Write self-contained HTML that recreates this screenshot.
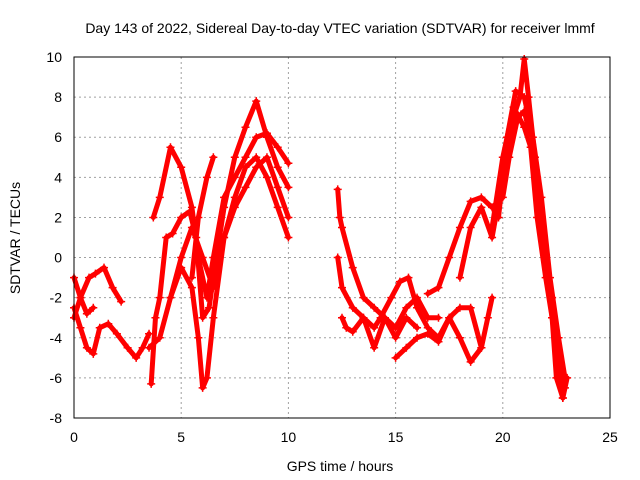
<!DOCTYPE html>
<html><head><meta charset="utf-8"><style>
html,body{margin:0;padding:0;background:#fff;}
svg{display:block;font-family:"Liberation Sans",sans-serif;}
</style></head><body>
<svg id="chart" width="640" height="480">
<text x="340" y="33" font-size="14" text-anchor="middle">Day 143 of 2022, Sidereal Day-to-day VTEC variation (SDTVAR) for receiver lmmf</text>
<text x="340" y="471" font-size="14" text-anchor="middle">GPS time / hours</text>
<text x="20" y="238" font-size="14" text-anchor="middle" transform="rotate(-90 20 238)">SDTVAR / TECUs</text>
<g id="grid"></g><g id="ticks"></g><g id="series"></g>
<rect x="74" y="57" width="536" height="361" fill="none" stroke="#000" stroke-width="1"/>
</svg>
<script>
const xTicks=[0,5,10,15,20,25];
const yTicks=[-8,-6,-4,-2,0,2,4,6,8,10];
const s1=[[0,-1],[0.3,-2],[0.7,-1],[1,-0.8],[1.4,-0.5],[1.8,-1.5],[2.2,-2.2]];
const s2=[[0,-2.5],[0.3,-3.5],[0.6,-4.5],[0.9,-4.8],[1.2,-3.5],[1.6,-3.3],[2,-3.8],[2.5,-4.5],[2.9,-5],[3.2,-4.5],[3.5,-3.8]];
const s3=[[0,-3],[0.3,-2],[0.6,-2.8],[0.9,-2.5]];
const s4=[[3.5,-4.5],[4,-4],[4.5,-2],[5,-0.5],[5.5,-1.5],[5.8,-4],[6,-6.5],[6.2,-6],[6.5,-3],[7,1],[7.5,3],[8,4.5],[8.5,5],[9,4],[9.5,2.5],[10,1]];
const s5=[[3.6,-6.3],[3.8,-3],[4,-2],[4.3,1],[4.6,1.2],[5,2],[5.4,2.3],[5.7,1],[6,-3],[6.3,-2.5],[6.5,-1],[7,2.5],[7.5,5],[8,6.5],[8.5,7.8],[9,6],[9.5,4.5],[10,3.5]];
const s6=[[3.7,2],[4,3],[4.5,5.5],[5,4.5],[5.5,2.5],[5.8,0],[6.2,-2],[6.5,0],[7,3],[7.5,4],[8,5],[8.5,6],[9,6.2],[9.5,5.5],[10,4.7]];
const s7=[[5.5,-1],[5.8,2],[6.2,4],[6.5,5]];
const s8=[[4.5,-2],[5,0],[5.5,1.5],[6,0],[6.5,-1.5],[7,1],[7.5,2.5],[8,3.5],[8.5,4.5],[9,5],[9.5,3.5],[10,2]];
const s9=[[12.3,3.4],[12.4,2],[12.5,1.5],[13,-0.5],[13.5,-2],[14,-2.5],[14.5,-3],[15,-3.5],[15.5,-2.5],[16,-2],[16.5,-3],[17,-3]];
const s10=[[12.3,0],[12.5,-1.5],[13,-2.5],[13.5,-3],[14,-3.5],[14.3,-3],[14.8,-2],[15.2,-1.2],[15.6,-1],[16,-2.5],[16.5,-3.5],[17,-4],[17.5,-3],[18,-2.5],[18.5,-2.5],[19,-4.5]];
const s11=[[12.5,-3],[12.7,-3.5],[13,-3.7],[13.5,-3],[14,-4.5],[14.5,-3],[15,-4],[15.5,-3],[16,-3.5]];
const s12=[[15,-5],[15.5,-4.5],[16,-4],[16.5,-3.8],[17,-4.2],[17.5,-3],[18,-4],[18.5,-5.2],[19,-4.5],[19.3,-3],[19.5,-2]];
const s13=[[16.5,-1.8],[17,-1.5],[17.5,0],[18,1.5],[18.5,2.8],[19,3],[19.5,2.5],[20,3],[20.3,5],[20.7,7],[21,7.3],[21.3,6],[21.6,4],[22,0],[22.3,-2],[22.6,-5],[22.9,-6.5]];
const s14=[[18,-1],[18.5,1.5],[19,2.5],[19.5,1],[20,4],[20.5,7],[20.8,8],[21,9.9],[21.2,8],[21.5,5],[21.8,2],[22,0],[22.3,-3],[22.6,-5.5],[22.8,-7]];
const s15=[[19.5,1.5],[20,5],[20.5,7.5],[21,6.5],[21.3,5.5],[21.6,2],[22,-1],[22.3,-3],[22.5,-6],[22.8,-7],[23,-6]];
const s16=[[19.8,2],[20.2,6],[20.6,8.3],[21,8],[21.4,6],[21.8,3],[22.2,-1],[22.6,-4],[22.9,-6]];
const allSeries=[s1,s2,s3,s4,s5,s6,s7,s8,s9,s10,s11,s12,s13,s14,s15,s16];
const NS="http://www.w3.org/2000/svg";
const X0=74,X1=610,Y0=418,Y1=57;
function xs(v){return X0+(v-0)/(25-0)*(X1-X0);}
function ys(v){return Y0-(v+8)/(18)*(Y0-Y1);}
function mk(t,a,p){const e=document.createElementNS(NS,t);for(const k in a)e.setAttribute(k,a[k]);p.appendChild(e);return e;}
const grid=document.getElementById('grid'),ticks=document.getElementById('ticks'),ser=document.getElementById('series');
xTicks.forEach(t=>{const x=xs(t);
 if(t>0&&t<25){const g=mk('line',{x1:x,x2:x,y1:Y1,y2:Y0,stroke:'#a0a0a0','stroke-dasharray':'2,3'},grid);
 
 }
 const l=mk('text',{x:x,y:Y0+24,'font-size':14,'text-anchor':'middle'},ticks);l.textContent=t;
 
 
});
yTicks.forEach(t=>{const y=ys(t);
 if(t>-8&&t<10){const g=mk('line',{x1:X0,x2:X1,y1:y,y2:y,stroke:'#a0a0a0','stroke-dasharray':'2,3'},grid);
 
 }
 const l=mk('text',{x:X0-12,y:y+5,'font-size':14,'text-anchor':'end'},ticks);l.textContent=t;
 
 
});
allSeries.forEach((s,i)=>{
 const g=mk('g',{},ser);
 
 
 mk('polyline',{points:s.map(p=>xs(p[0])+','+ys(p[1])).join(' '),fill:'none',stroke:'#ff0000','stroke-width':5,'stroke-linejoin':'round','stroke-linecap':'round'},g);
 s.forEach(p=>{const x=xs(p[0]),y=ys(p[1]);
  const m=mk('path',{d:`M${x-4},${y}H${x+4}M${x},${y-4}V${y+4}`,stroke:'#ff0000','stroke-width':1.5},g);
  
  
 });
});
</script>
</body></html>
